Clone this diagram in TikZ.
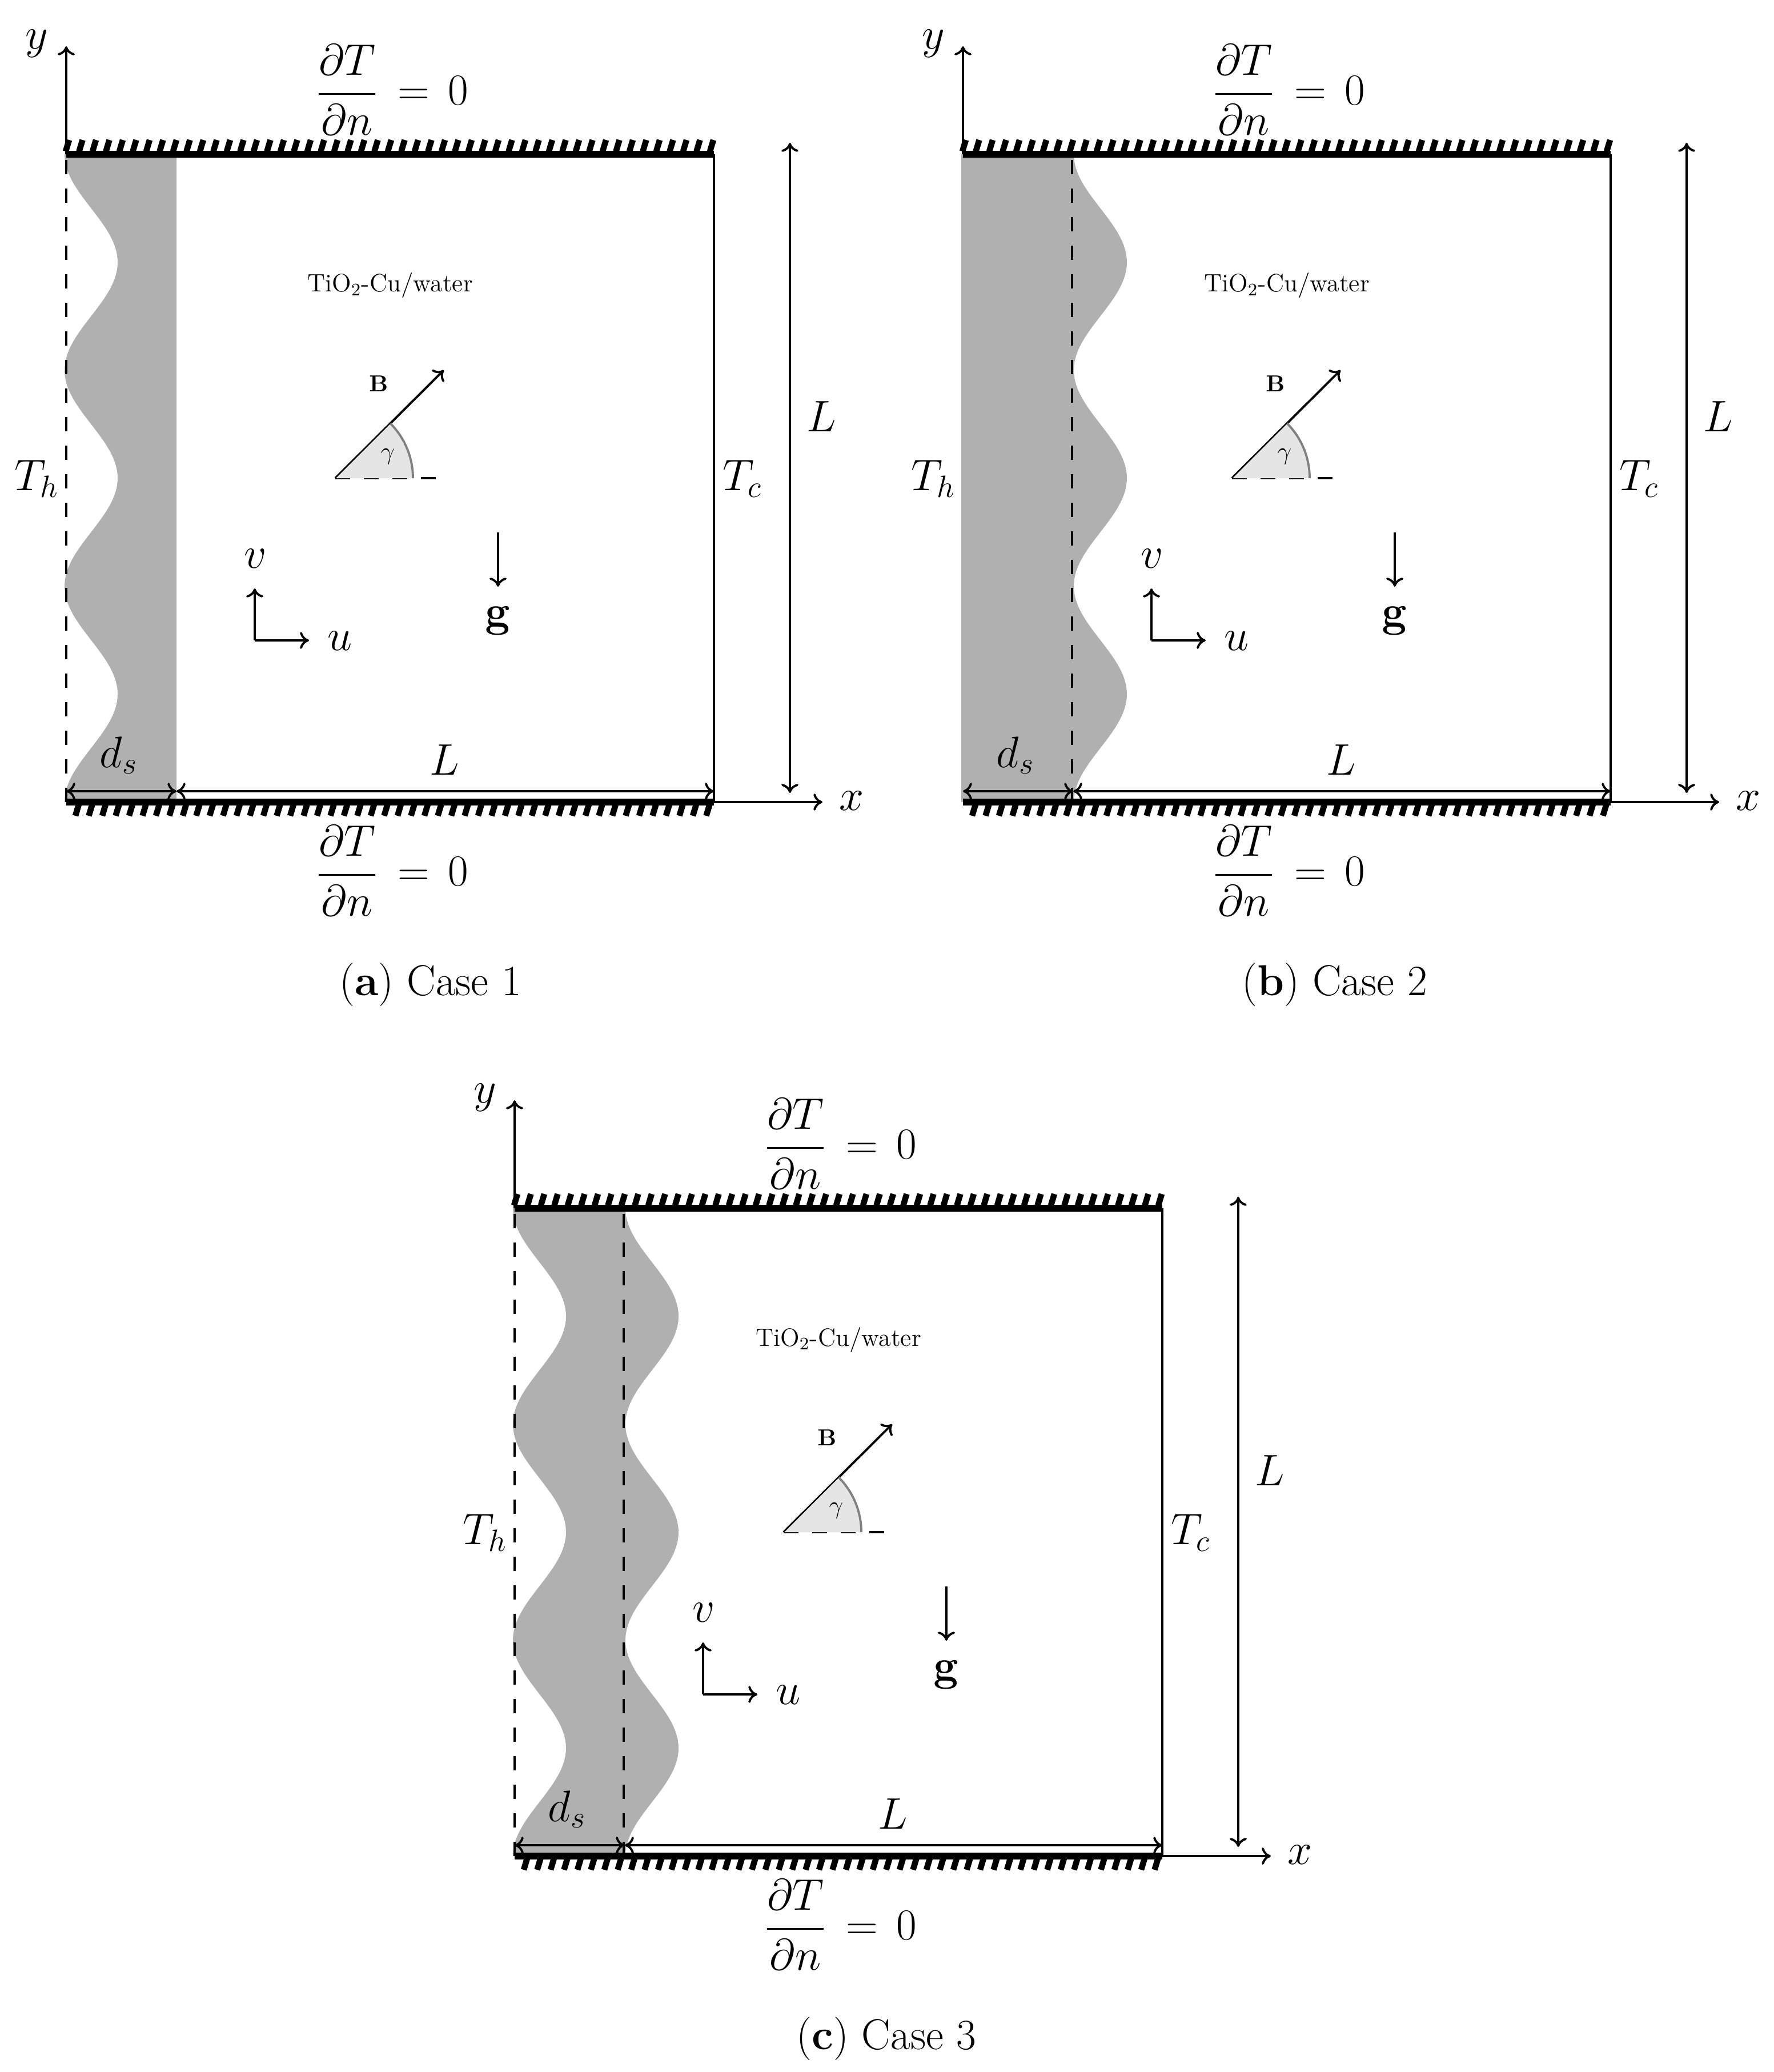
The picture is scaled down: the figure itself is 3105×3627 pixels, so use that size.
\documentclass[tikz,border=0pt]{standalone}
\usepackage{fix-cm}
\usepackage{amsmath}
\usetikzlibrary{arrows.meta}
\tikzset{
  >={Computer Modern Rightarrow[length=4.5pt,width=8.5pt]},
  axisline/.style={line width=1.1pt},
  wallline/.style={line width=3.2pt},
  hatchline/.style={line width=3pt},
  dashline/.style={line width=1.3pt,dash pattern=on 7.1pt off 7.1pt},
  solidfill/.style={fill=black!31},
  bigmath/.style={inner sep=0pt,font=\fontsize{22}{26}\selectfont},
  smalltext/.style={inner sep=0pt,font=\fontsize{12.5}{15}\selectfont},
}
\begin{document}
\begin{tikzpicture}[x=0.01cm,y=-0.01cm,
  declare function={wave(\t)=-3+46.5*(1-cos((\t-270)*0.95238));}]
\useasboundingbox (0,0) rectangle (3105,3627);
% case 1
\fill[solidfill] (309,270) -- plot[domain=270:1404,samples=150,variable=\t] ({116+wave(\t)},\t) -- (309,1404) -- cycle;
\draw[dashline] (116,1404) -- (116,270);
% case 2
\begin{scope}[shift={(1570,0)}]
\fill[solidfill] (113,270) -- plot[domain=270:1404,samples=150,variable=\t] ({313+wave(\t)},\t) -- (113,1404) -- cycle;
\draw[dashline] (307,1404) -- (307,270);
\end{scope}
% case 3
\begin{scope}[shift={(785,1845)}]
\fill[solidfill] plot[domain=270:1404,samples=150,variable=\t] ({116+wave(\t)},\t) -- plot[domain=1404:270,samples=150,variable=\t] ({313+wave(\t)},\t) -- cycle;
\draw[dashline] (116,1404) -- (116,270);
\draw[dashline] (307,1404) -- (307,270);
\end{scope}
% what the three cases share
\foreach \n/\dx/\dy/\capx/\texto in {a/0/0/754/{(\textbf{a}) Case 1},b/1570/0/767/{(\textbf{b}) Case 2},c/785/1845/767/{(\textbf{c}) Case 3}}{
\begin{scope}[shift={(\dx,\dy)}]
\coordinate (tl\n) at (116,270);
\coordinate (tr\n) at (1250,270);
\coordinate (bl\n) at (116,1404);
\coordinate (br\n) at (1250,1404);
\coordinate (ds\n) at (309,1385);
\coordinate (ytip\n) at (116,81);
\coordinate (xtip\n) at (1440,1404);
\draw[wallline] (tl\n) -- (tr\n);
\draw[wallline] (bl\n) -- (br\n);
\draw[axisline] (tr\n) -- (br\n);
\foreach \k in {0,...,48} % top hatches
\draw[hatchline, shift={(118+23.5*\k,0)}] (3,245) -- (-3,265);
\foreach \k in {0,...,47} % bottom hatches
\draw[hatchline, shift={(135+23.5*\k,0)}] (3,1408) -- (-3,1428);
\draw[axisline,->] (tl\n) -- (ytip\n);
\draw[axisline,->] (br\n) -- (xtip\n);
\draw[axisline,<->] (1383,250) -- (1383,1388);
\draw[axisline,<->] (116,1385) -- (ds\n);
\draw[axisline,<->] (ds\n) -- (1250,1385);
\node[bigmath] (ylab\n) at (64,76) {$y$};
\node[bigmath] (xlab\n) at (1491,1402) {$x$};
\node[bigmath] (dtop\n) at (687,157) {$\dfrac{\partial T}{\partial n}\hspace{4pt}=\hspace{3pt}0$};
\node[bigmath] (dbot\n) at (687,1524) {$\dfrac{\partial T}{\partial n}\hspace{4pt}=\hspace{3pt}0$};
\node[bigmath] (Th\n) at (64,838) {$T_h$};
\node[bigmath] (Tc\n) at (1300,838) {$T_c$};
\node[bigmath] (Lv\n) at (1438,729) {$L$};
\node[bigmath] (Lh\n) at (778,1330) {$L$};
\node[bigmath] (dlab\n) at (208,1322) {$d_s$};
\node[smalltext] (fluid\n) at (683,500) {TiO$_2$-Cu/water};
\node[smalltext,font=\fontsize{11.5}{14}\selectfont] (Blab\n) at (663,672) {$\mathbf{B}$};
% field and its angle
\coordinate (O\n) at (587,837);
\coordinate (Btip\n) at (777,648);
\coordinate (Rend\n) at (764,837);
\draw[axisline,dash pattern=on 7.4pt off 6.8pt] (O\n) -- (Rend\n);
\draw[axisline,->] (O\n) -- (Btip\n);
\fill[black!10] (O\n) -- (723,837) arc[start angle=0,end angle=-45,radius=136] -- cycle;
\draw[black!50,axisline] (723,837) arc[start angle=0,end angle=-45,radius=136];
\draw[line width=0.4pt] (O\n) -- (683,741);
\node[smalltext] (gam\n) at (679,799) {$\gamma$};
% velocity axes
\coordinate (vel\n) at (446,1121);
\coordinate (utip\n) at (541,1121);
\coordinate (vtip\n) at (446,1030);
\draw[axisline,->] (vel\n) -- (utip\n);
\draw[axisline,->] (vel\n) -- (vtip\n);
\node[bigmath] (ulab\n) at (595,1122) {$u$};
\node[bigmath] (vlab\n) at (447,978) {$v$};
% gravity
\coordinate (gtop\n) at (872,932);
\coordinate (gtip\n) at (872,1027);
\draw[axisline,->] (gtop\n) -- (gtip\n);
\node[bigmath] (glab\n) at (872,1087) {$\mathbf{g}$};
\node[inner sep=0pt,font=\fontsize{21.5}{26}\selectfont] (cap\n) at (\capx,1724) {\texto};
\end{scope}
}
\end{tikzpicture}
\end{document}
